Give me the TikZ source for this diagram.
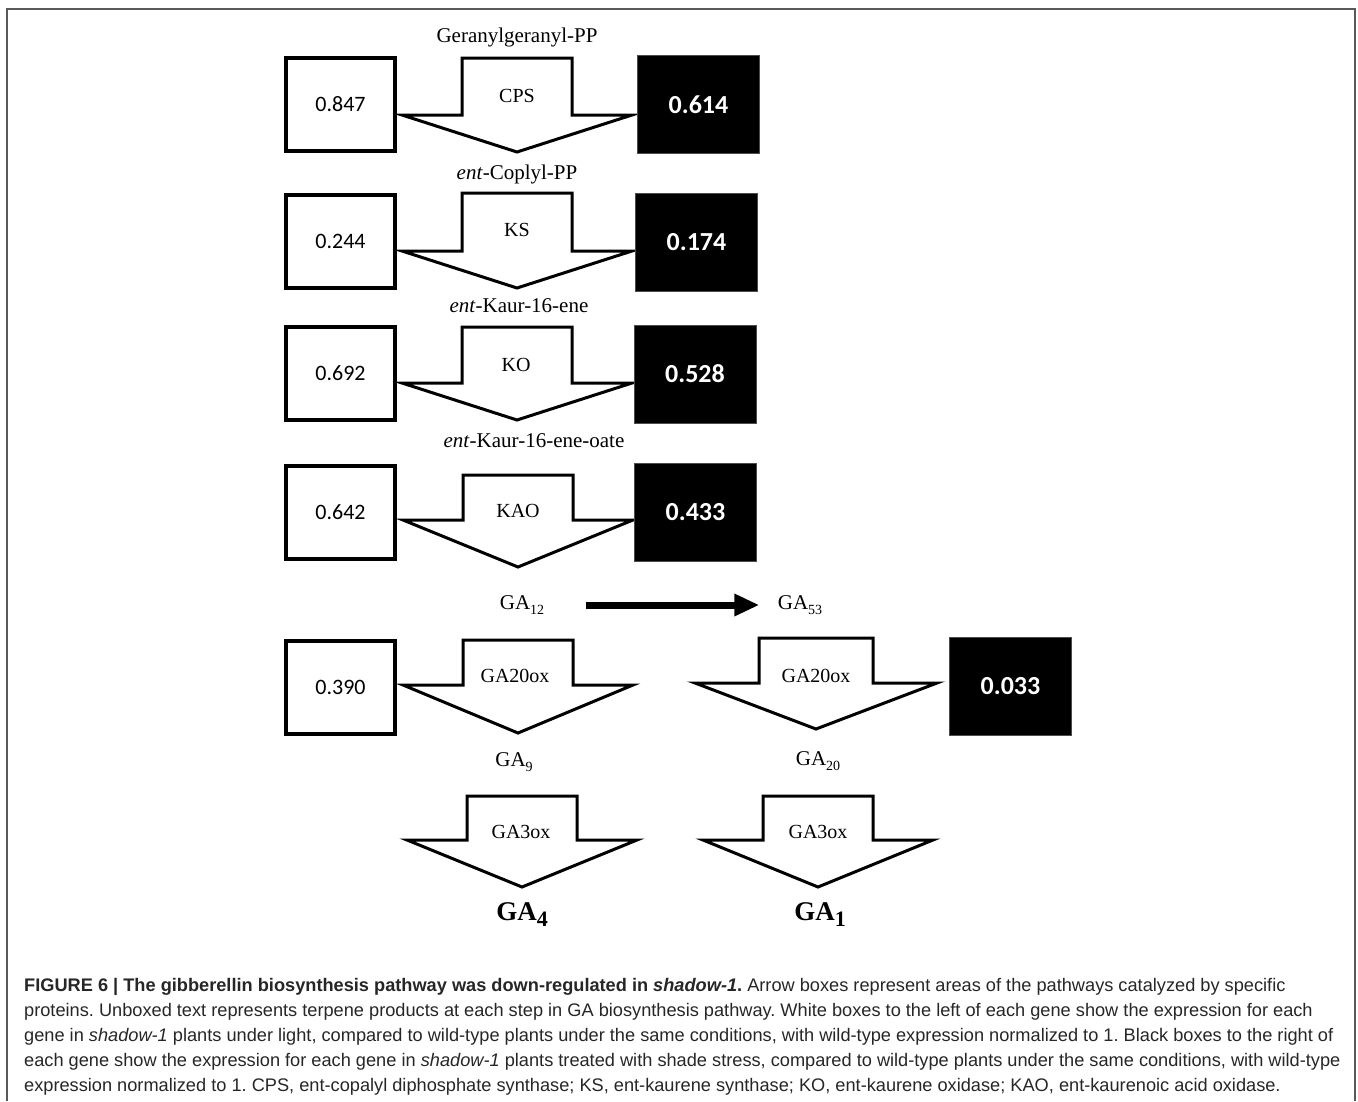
\documentclass[tikz,border=0pt]{standalone}
\usepackage{fontspec}
\setmainfont{Liberation Serif}
\newfontfamily\numfont{Carlito}
\newfontfamily\capfont{Liberation Sans}
\usetikzlibrary{arrows.meta}
\newcommand\gasub[1]{\raisebox{-5pt}{\fontsize{14}{14}\selectfont #1}}
\newcommand\gabig[1]{\raisebox{-6pt}{\fontsize{22}{22}\selectfont #1}}

\begin{document}
\begin{tikzpicture}[x=1pt, y=-1pt, line join=miter, >=Triangle]
\tikzset{
  wbox/.style={draw, line width=4pt, minimum width=109pt, minimum height=93pt,
    font=\numfont\fontsize{22}{26}\selectfont},
  bbox/.style={fill=black, draw=black!70, line width=0.8pt, minimum width=122pt,
    minimum height=98pt, text=white, font=\numfont\bfseries\fontsize{26}{30}\selectfont},
  enz/.style={font=\fontsize{20}{24}\selectfont},
  prod/.style={font=\fontsize{21}{25}\selectfont},
  final/.style={font=\bfseries\fontsize{27}{30}\selectfont},
  capline/.style={anchor=base west, inner sep=0, text=black!85,
    font=\capfont\fontsize{18.2}{20}\selectfont\frenchspacing},
}
\useasboundingbox (0,0) rectangle (1358,1101);
% frame
\draw[black!65, line width=2pt] (7,1101) -- (7,9) -- (1355,9) -- (1355,1101);

% block arrows: centre / stem top / shoulder / tip / stem half width / wing half width
\foreach \cx/\ty/\sy/\py/\sw/\ww in {517/58/115/152/55/115, 517/193/251/288/55/115,
    517/327/383/420/55/115, 518/475/520/567/55/115, 518/640/685/733/55/115,
    816/638/683/729/57/121, 522/796/840/887/55/115, 818/796/840/887/55/115}
  \draw[line width=3pt, fill=white] (\cx-\sw,\ty) -- (\cx+\sw,\ty) -- (\cx+\sw,\sy)
    -- (\cx+\ww,\sy) -- (\cx,\py) -- (\cx-\ww,\sy) -- (\cx-\sw,\sy) -- cycle;

% enzymes
\node[enz] (cps) at (517,96) {CPS};
\node[enz] (ks) at (517,230) {KS};
\node[enz] (ko) at (516,365) {KO};
\node[enz] (kao) at (518,511) {KAO};
\node[enz] (ga20ox-l) at (515,676) {GA20ox};
\node[enz] (ga20ox-r) at (816,676) {GA20ox};
\node[enz] (ga3ox-l) at (521,832) {GA3ox};
\node[enz] (ga3ox-r) at (818,832) {GA3ox};

% expression under light (white) and under shade (black)
\node[wbox] (w-cps) at (340.5,104.5) {0.847};
\node[bbox] (b-cps) at (698.5,104.5) {0.614};
\node[wbox] (w-ks) at (340.5,241.5) {0.244};
\node[bbox] (b-ks) at (696.5,242.5) {0.174};
\node[wbox] (w-ko) at (340.5,373) {0.692};
\node[bbox] (b-ko) at (695,374) {0.528};
\node[wbox] (w-kao) at (340.5,512) {0.642};
\node[bbox] (b-kao) at (695.5,512.5) {0.433};
\node[wbox] (w-ga20ox) at (340.5,687.5) {0.390};
\node[bbox] (b-ga20ox) at (1010.5,686.5) {0.033};

% products
\node[prod] (ggpp) at (517,37) {Geranylgeranyl-PP};
\node[prod] (cpp) at (517,174) {\textit{ent}-Coplyl-PP};
\node[prod] (kaurene) at (519,306) {\textit{ent}-Kaur-16-ene};
\node[prod] (kaureneoate) at (534,441) {\textit{ent}-Kaur-16-ene-oate};
\node[prod] (ga12) at (522,605) {GA\gasub{12}};
\node[prod] (ga53) at (800,605) {GA\gasub{53}};
\node[prod] (ga9) at (514,762) {GA\gasub{9}};
\node[prod] (ga20) at (818,761) {GA\gasub{20}};
\node[final] (ga4) at (522,915) {GA\gabig{4}};
\node[final] (ga1) at (820,915) {GA\gabig{1}};

\draw[line width=7pt, -{Triangle[width=21pt, length=25pt]}, shorten <=38pt, shorten >=15pt]
  (ga12.east) -- (ga53.west);

% caption
\node[capline] (cap1) at (24,991) {\textbf{FIGURE 6 | The gibberellin biosynthesis pathway was down-regulated in \textit{shadow-1}.} Arrow boxes represent areas of the pathways catalyzed by specific};
\node[capline] (cap2) at (24,1016) {proteins. Unboxed text represents terpene products at each step in GA biosynthesis pathway. White boxes to the left of each gene show the expression for each};
\node[capline] (cap3) at (24,1041) {gene in \textit{shadow-1} plants under light, compared to wild-type plants under the same conditions, with wild-type expression normalized to 1. Black boxes to the right of};
\node[capline] (cap4) at (24,1066) {each gene show the expression for each gene in \textit{shadow-1} plants treated with shade stress, compared to wild-type plants under the same conditions, with wild-type};
\node[capline] (cap5) at (24,1091) {expression normalized to 1. CPS, ent-copalyl diphosphate synthase; KS, ent-kaurene synthase; KO, ent-kaurene oxidase; KAO, ent-kaurenoic acid oxidase.};
\end{tikzpicture}
\end{document}
